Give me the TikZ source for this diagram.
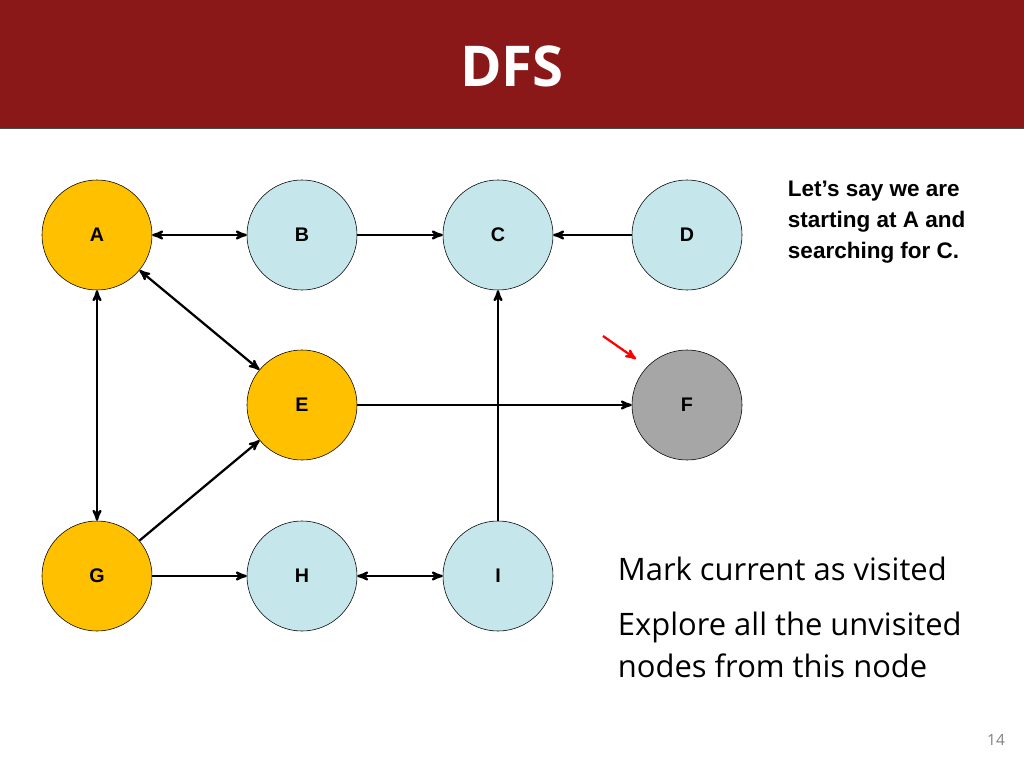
\documentclass[tikz,border=0pt]{standalone}
\usepackage{fontspec}
\setmainfont{Liberation Sans}
\newfontfamily\slidefont{Open Sans}
\usetikzlibrary{arrows}
\definecolor{hdred}{HTML}{8B1818}
\definecolor{visited}{HTML}{FFC000}
\definecolor{unseen}{HTML}{C5E6EA}
\definecolor{current}{HTML}{A6A6A6}
\tikzset{
  vtx/.style={circle,draw=black,thin,minimum size=2.75cm,inner sep=0pt,font=\fontsize{14}{16}\selectfont\bfseries},
  edge/.style={line width=1.6pt,>=stealth'}
}
\begin{document}
\begin{tikzpicture}[x=0.025cm, y=-0.025cm]
  \useasboundingbox (0,0) rectangle (1024,768);
  \fill[hdred] (0,0) rectangle (1024,128);
  \draw[black!70] (0,128) -- (1024,128);
  \node[white,font=\slidefont\fontsize{40}{44}\selectfont\bfseries] (title) at (512,66) {DFS};

  \node[vtx,fill=visited] (A) at (97,235) {A};
  \node[vtx,fill=unseen] (B) at (302,235) {B};
  \node[vtx,fill=unseen] (C) at (498,235) {C};
  \node[vtx,fill=unseen] (D) at (687,235) {D};
  \node[vtx,fill=visited] (E) at (302,405) {E};
  \node[vtx,fill=current] (F) at (687,405) {F};
  \node[vtx,fill=visited] (G) at (97,576) {G};
  \node[vtx,fill=unseen] (H) at (302,576) {H};
  \node[vtx,fill=unseen] (I) at (498,576) {I};

  \draw[edge,<->] (A) -- (B);
  \draw[edge,->] (B) -- (C);
  \draw[edge,->] (D) -- (C);
  \draw[edge,<->] (A) -- (E);
  \draw[edge,<->] (A) -- (G);
  \draw[edge,->] (G) -- (E);
  \draw[edge,->] (E) -- (F);
  \draw[edge,->] (I) -- (C);
  \draw[edge,->] (G) -- (H);
  \draw[edge,<->] (H) -- (I);

  % pointer to the current node
  \coordinate (p0) at (603,336);
  \coordinate (p1) at (636,359);
  \draw[edge,->,red] (p0) -- (p1);

  \node[anchor=north west,align=left,font=\fontsize{16}{22}\selectfont\bfseries] (note) at (783,176)
    {Let’s say we are\\starting at A and\\searching for C.};
  \node[anchor=north west,align=left,font=\slidefont\fontsize{22}{30}\selectfont] (steps) at (613,552)
    {Mark current as visited\\[9pt]Explore all the unvisited\\nodes from this node};
  \node[gray,font=\slidefont\fontsize{11}{13}\selectfont] (page) at (996,740) {14};
\end{tikzpicture}
\end{document}
